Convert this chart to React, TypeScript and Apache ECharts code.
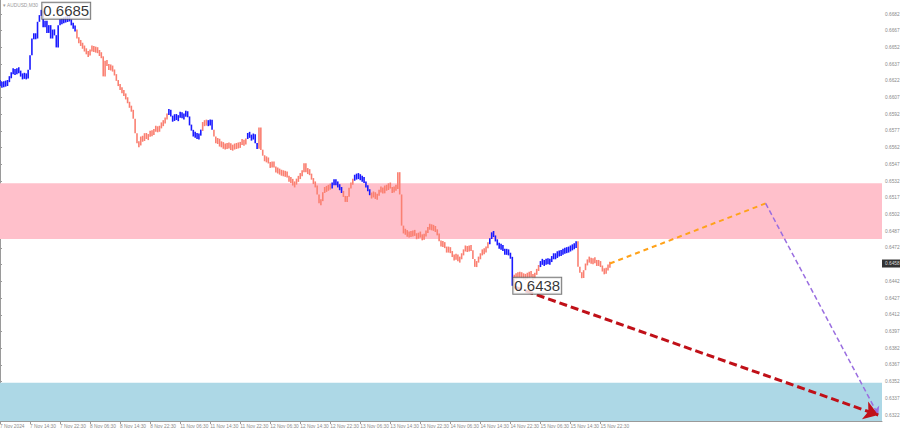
import React, { useEffect, useRef } from "react";
import * as echarts from "echarts";

// ---- data ----
const xLabels = [
  "7 Nov 2024", "7 Nov 14:30", "7 Nov 22:30", "8 Nov 06:30", "8 Nov 14:30", "8 Nov 22:30",
  "11 Nov 06:30", "11 Nov 14:30", "11 Nov 22:30", "12 Nov 06:30", "12 Nov 14:30", "12 Nov 22:30",
  "13 Nov 06:30", "13 Nov 14:30", "13 Nov 22:30", "14 Nov 06:30", "14 Nov 14:30", "14 Nov 22:30",
  "15 Nov 06:30", "15 Nov 14:30", "15 Nov 22:30",
];
const barsPerLabel = 16;
const xMaxIndex = 470;

// M30 closes in pips (price * 10000)
const closePips = [
  6620, 6617, 6621, 6618, 6622, 6625,
  6629, 6632, 6628, 6633, 6630, 6627,
  6625, 6628, 6624, 6632,
  6645,
  6660, 6664, 6660,
  6675, 6681, 6685,
  6670, 6676, 6665, 6672, 6660, 6668, 6663, 6652,
  6672, 6677, 6674, 6679, 6675, 6680, 6676, 6673, 6670, 6668,
  6660, 6657, 6655, 6652, 6650,
  6647, 6645,
  6650, 6652, 6649, 6651, 6648,
  6646, 6644, 6626,
  6640, 6636, 6633, 6635, 6631,
  6628, 6622, 6618, 6615, 6612, 6610,
  6606, 6603, 6598, 6596,
  6588, 6575,
  6566, 6564,
  6572, 6568, 6575, 6570,
  6573, 6576, 6574, 6578, 6580, 6577, 6581, 6583, 6585, 6588,
  6592,
  6596, 6590, 6586, 6592, 6587, 6590, 6593, 6589, 6591, 6594, 6590, 6582, 6578, 6572, 6575, 6570, 6574, 6577,
  6585, 6583, 6586,
  6582, 6587, 6578,
  6572, 6566, 6570, 6563, 6567, 6561, 6565, 6562, 6566, 6560, 6564, 6562, 6565, 6563, 6566, 6568, 6565, 6570,
  6575, 6572, 6570, 6574, 6566, 6561,
  6580,
  6560, 6555, 6550, 6553, 6548, 6545, 6549,
  6545, 6540, 6543, 6538, 6541, 6537, 6540,
  6536, 6532, 6534, 6528, 6530, 6533,
  6535, 6538, 6540, 6548, 6540,
  6542, 6538, 6534, 6530, 6528,
  6520, 6512, 6514,
  6522, 6526, 6524, 6528, 6526,
  6530, 6532, 6530, 6528, 6525, 6523,
  6518, 6514, 6518, 6526, 6530, 6533,
  6537, 6535, 6538, 6533, 6535, 6531, 6527, 6524, 6520,
  6518, 6522, 6516, 6520,
  6523, 6526, 6521, 6528, 6524, 6530, 6526, 6522, 6527, 6525,
  6540,
  6520, 6492,
  6485, 6488, 6482, 6486, 6483, 6487, 6484, 6481, 6485, 6483, 6480, 6484, 6486,
  6490, 6492, 6489, 6491, 6487, 6485,
  6478, 6474, 6477, 6472, 6469, 6472,
  6468, 6465, 6462, 6466, 6460, 6463, 6466,
  6470, 6473, 6469, 6474, 6470,
  6462, 6455, 6460,
  6463, 6466, 6470, 6468, 6473, 6476,
  6480, 6486, 6483, 6478, 6476, 6472, 6474, 6470, 6467, 6470, 6466, 6464, 6438,
  6448, 6445, 6450, 6446, 6449, 6444, 6448, 6446, 6450, 6447, 6445, 6449, 6452, 6456,
  6459, 6460, 6457, 6462, 6458, 6461, 6463, 6466, 6463, 6469, 6465, 6470, 6467, 6472, 6468, 6473, 6470, 6475, 6472, 6478,
  6455, 6450, 6445, 6452, 6458, 6460, 6463, 6458, 6462, 6460, 6457, 6460, 6455, 6452, 6450, 6453, 6456, 6458,
];

// bar index where each wave starts; waves alternate up (blue) / down (salmon), starting up
const waveStarts = [0, 41, 90, 108, 111, 114, 132, 138, 177, 183, 189, 198, 261, 274, 288, 308];

const yTicks = [
  0.6322, 0.6337, 0.6352, 0.6367, 0.6382, 0.6397, 0.6412, 0.6427, 0.6442, 0.6457, 0.6472,
  0.6487, 0.6502, 0.6517, 0.6532, 0.6547, 0.6562, 0.6577, 0.6592, 0.6607, 0.6622, 0.6637,
  0.6652, 0.6667, 0.6682,
];
// tick labels shown (0.6457 sits under the current-price tag)
const yTickLabels = yTicks.filter((v) => v !== 0.6457);
const yMin = 0.631662;
const yMax = 0.669457;

const zonePink = [0.648, 0.653];
const zoneBlue = [0.63167, 0.6351];

const highPoint = [22, 0.6685];
const lowPoint = [273, 0.6438];
const currentPrice = 0.6458;

const forecastOrange = [[325, 0.6458], [408, 0.6512]];
const forecastPurple = [[408, 0.6512], [468, 0.6322]];
const forecastRed = [[274, 0.6437], [468, 0.6322]];

const headerText = "\u25BE AUDUSD,M30";

// ---- colours ----
const UP = "#1a1aff";
const DOWN = "#fa8072";
const FONT = "Liberation Sans";

function waveIsUp(i: number): boolean {
  let k = 0;
  for (let w = 0; w < waveStarts.length; w++) if (i >= waveStarts[w]) k = w;
  return k % 2 === 0;
}

export default function App() {
  const ref = useRef<HTMLDivElement>(null);
  useEffect(() => {
    if (!ref.current) return;
    const chart = echarts.init(ref.current, null, { renderer: "svg" });
    const bars = closePips.map((c, i) => {
      const o = i === 0 ? c : closePips[i - 1];
      return [i, o / 10000, c / 10000];
    });
    const labelStyle = {
      show: true,
      position: "right" as const,
      distance: 1,
      fontFamily: FONT,
      fontSize: 15,
      color: "#000",
      backgroundColor: "#fff",
      borderColor: "#555",
      borderWidth: 1,
      padding: [1, 1, 0, 1],
      formatter: (p: any) => p.value[1].toFixed(4),
    };
    chart.setOption({
      animation: false,
      backgroundColor: "#fff",
      grid: { left: 0, right: 18, top: 0, bottom: 10, outerBoundsMode: "none", containLabel: false },
      xAxis: {
        type: "value",
        min: 0,
        max: xMaxIndex,
        splitLine: { show: false },
        axisLine: { show: true, lineStyle: { color: "#9a9a9a", width: 1 } },
        axisTick: {
          show: true,
          length: 3,
          lineStyle: { color: "#9a9a9a" },
          customValues: xLabels.map((_, k) => k * barsPerLabel),
        },
        axisLabel: {
          show: true,
          fontFamily: FONT,
          fontSize: 4.8,
          color: "#8a8a8a",
          margin: 3,
          align: "left",
          hideOverlap: false,
          customValues: xLabels.map((_, k) => k * barsPerLabel),
          formatter: (v: number) => xLabels[Math.round(v / barsPerLabel)] ?? "",
        },
      },
      yAxis: {
        type: "value",
        position: "right",
        min: yMin,
        max: yMax,
        scale: true,
        splitLine: { show: false },
        axisLine: { show: true, lineStyle: { color: "#9a9a9a", width: 1 } },
        axisTick: { show: true, length: 2, lineStyle: { color: "#9a9a9a" }, customValues: yTicks },
        axisLabel: {
          show: true,
          fontFamily: FONT,
          fontSize: 4.8,
          color: "#8a8a8a",
          margin: 3,
          customValues: yTickLabels,
          formatter: (v: number) => v.toFixed(4),
        },
      },
      graphic: [
        {
          type: "text",
          left: 3,
          top: 3,
          z: 10,
          style: { text: headerText, fontFamily: FONT, fontSize: 4.8, fill: "#9a9a9a" },
        },
      ],
      series: [
        {
          type: "line",
          data: [],
          z: 1,
          silent: true,
          markArea: {
            silent: true,
            label: { show: false },
            data: [
              [{ yAxis: zonePink[0], itemStyle: { color: "#ffc0cb", opacity: 1 } }, { yAxis: zonePink[1] }],
              [{ yAxis: zoneBlue[0], itemStyle: { color: "#add8e6", opacity: 1 } }, { yAxis: zoneBlue[1] }],
            ],
          },
        },
        {
          type: "custom",
          z: 3,
          data: bars,
          encode: { x: 0, y: [1, 2] },
          renderItem: (params: any, api: any) => {
            const i = api.value(0);
            const o = api.value(1);
            const c = api.value(2);
            const top = api.coord([i, Math.max(o, c)]);
            const bot = api.coord([i, Math.min(o, c)]);
            let h = bot[1] - top[1];
            let y0 = top[1];
            const minH = 6;
            if (h < minH) {
              y0 -= (minH - h) / 2;
              h = minH;
            }
            return {
              type: "rect",
              shape: { x: top[0] - 0.8, y: y0, width: 1.6, height: h },
              style: { fill: waveIsUp(i) ? UP : DOWN },
            };
          },
        },
        {
          type: "line",
          data: [],
          z: 4,
          silent: true,
          markLine: {
            silent: true,
            label: { show: false },
            data: [
              [
                { coord: forecastOrange[0], symbol: "none", lineStyle: { color: "#ffa21a", width: 2, type: [5, 4] } },
                { coord: forecastOrange[1], symbol: "none" },
              ],
              [
                { coord: forecastPurple[0], symbol: "none", lineStyle: { color: "#9a6ee0", width: 1.5, type: [5, 3] } },
                { coord: forecastPurple[1], symbol: "arrow", symbolSize: 8 },
              ],
              [
                { coord: forecastRed[0], symbol: "none", lineStyle: { color: "#c01018", width: 3, type: [8, 4] } },
                { coord: forecastRed[1], symbol: "arrow", symbolSize: 14 },
              ],
            ],
          },
        },
        {
          type: "scatter",
          z: 7,
          symbolSize: 0,
          clip: false,
          silent: true,
          data: [[xMaxIndex, currentPrice]],
          label: {
            show: true,
            position: "right",
            distance: 0,
            formatter: (p: any) => p.value[1].toFixed(4),
            fontFamily: FONT,
            fontSize: 4.8,
            color: "#fff",
            backgroundColor: "#000",
            padding: [2, 3, 1, 3],
          },
        },
        {
          type: "scatter",
          z: 6,
          symbolSize: 0,
          data: [highPoint, lowPoint],
          label: labelStyle,
        },
      ],
    });
    return () => chart.dispose();
  }, []);
  return (
    <div
      ref={ref}
      style={{ position: "fixed", left: 0, top: 0, width: 900, height: 431, background: "#fff" }}
    />
  );
}
